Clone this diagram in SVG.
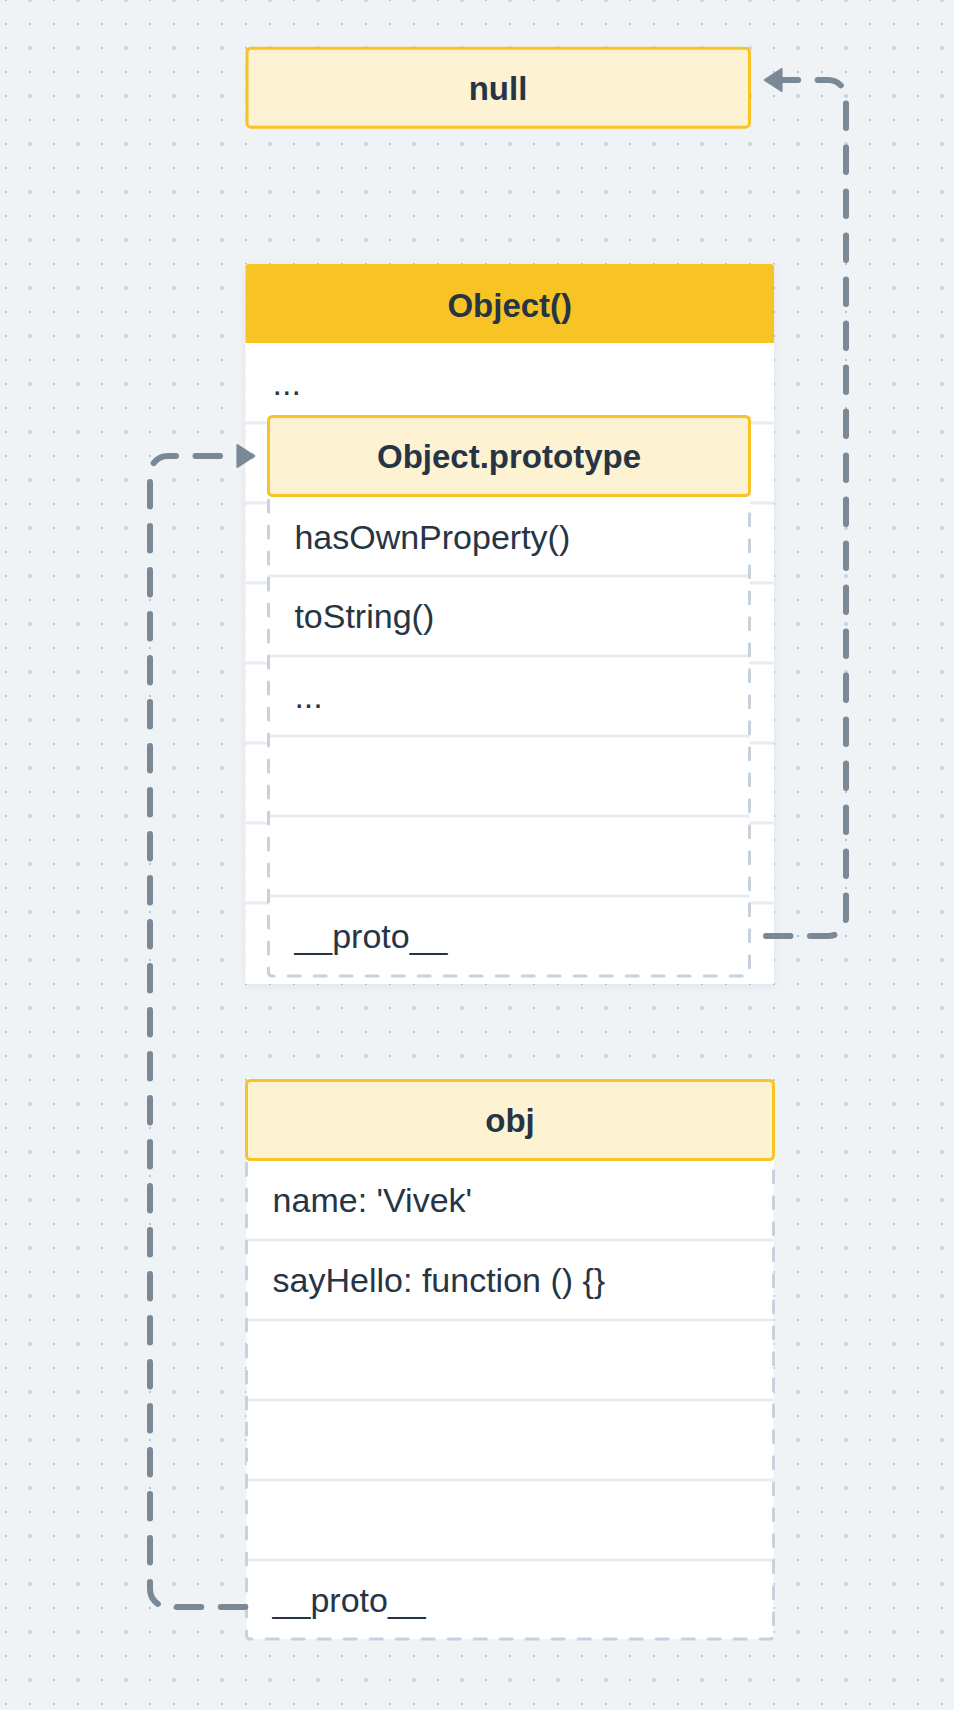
<svg xmlns="http://www.w3.org/2000/svg" width="954" height="1710" viewBox="0 0 954 1710">
<defs>
<pattern id="dotsSmall" patternUnits="userSpaceOnUse" x="-6" y="-12" width="24" height="24">
<rect x="11" y="11" width="2" height="2" fill="#b9c4cf"/>
</pattern>
<pattern id="dotsLarge" patternUnits="userSpaceOnUse" x="6" y="-24" width="48" height="48">
<circle cx="24" cy="24" r="2" fill="#c8d2dc"/>
</pattern>
<marker id="arrow" markerUnits="userSpaceOnUse" viewBox="0 -14 20 28" markerWidth="20" markerHeight="28" refX="14.6" refY="0" orient="auto">
<path d="M1,-11 L18,0 L1,11 Z" fill="#7b8997" stroke="#7b8997" stroke-width="2" stroke-linejoin="round"/>
</marker>
<filter id="shadow" x="-5%" y="-5%" width="110%" height="110%">
<feDropShadow dx="0" dy="3" stdDeviation="4" flood-color="#1e2a38" flood-opacity="0.06"/>
</filter>
</defs>
<style>
.hdr{font-family:"Liberation Sans",Arial,sans-serif;font-weight:bold;font-size:33px;fill:#263545;text-anchor:middle}
.row{font-family:"Liberation Sans",Arial,sans-serif;font-size:34px;fill:#263545}
.hbox{fill:#fdf2d2;stroke:#f8c325;stroke-width:3}
.sep{stroke:#e8ecf1;stroke-width:3}
.dash{fill:none;stroke:#c8d2dc;stroke-width:3;stroke-dasharray:12 14;stroke-linecap:round}
.conn{fill:none;stroke:#7b8997;stroke-width:6;stroke-dasharray:24.5 19.5;stroke-linecap:round}
</style>
<rect width="954" height="1710" fill="#eff3f6"/>
<rect width="954" height="1710" fill="url(#dotsSmall)"/>
<rect width="954" height="1710" fill="url(#dotsLarge)"/>

<g id="node-null">
<rect class="hbox" x="247" y="48.2" width="502.5" height="79" rx="4"/>
<text class="hdr" x="498" y="100">null</text>
</g>

<g id="node-object">
<rect x="245.5" y="264" width="528.5" height="720" fill="#ffffff" filter="url(#shadow)"/>
<path d="M245.5,343 V267 Q245.5,264 248.5,264 H771 Q774,264 774,267 V343 Z" fill="#f8c325"/>
<text class="hdr" x="509.75" y="317">Object()</text>
<line class="sep" x1="245.5" y1="423" x2="774" y2="423"/>
<line class="sep" x1="245.5" y1="503" x2="774" y2="503"/>
<line class="sep" x1="245.5" y1="583" x2="774" y2="583"/>
<line class="sep" x1="245.5" y1="663" x2="774" y2="663"/>
<line class="sep" x1="245.5" y1="743" x2="774" y2="743"/>
<line class="sep" x1="245.5" y1="823" x2="774" y2="823"/>
<line class="sep" x1="245.5" y1="903" x2="774" y2="903"/>
<text class="row" x="272.6" y="395">...</text>
</g>

<g id="node-object-prototype">
<rect x="268.5" y="497" width="481" height="479" fill="#ffffff"/>
<line class="sep" x1="268.5" y1="576" x2="749.5" y2="576"/>
<line class="sep" x1="268.5" y1="656" x2="749.5" y2="656"/>
<line class="sep" x1="268.5" y1="736" x2="749.5" y2="736"/>
<line class="sep" x1="268.5" y1="816" x2="749.5" y2="816"/>
<line class="sep" x1="268.5" y1="896" x2="749.5" y2="896"/>
<path class="dash" d="M268.5,500 V972 Q268.5,976 272.5,976 H745.5 Q749.5,976 749.5,972 V500"/>
<rect class="hbox" x="268.5" y="416.5" width="481" height="79" rx="4"/>
<text class="hdr" x="509" y="468">Object.prototype</text>
<text class="row" x="294.4" y="548.5">hasOwnProperty()</text>
<text class="row" x="294.4" y="628">toString()</text>
<text class="row" x="294.4" y="708">...</text>
<text class="row" x="294.4" y="948">__proto__</text>
</g>

<g id="node-obj">
<rect x="246.5" y="1160" width="527" height="479" fill="#ffffff"/>
<line class="sep" x1="246.5" y1="1240" x2="773.5" y2="1240"/>
<line class="sep" x1="246.5" y1="1320" x2="773.5" y2="1320"/>
<line class="sep" x1="246.5" y1="1400" x2="773.5" y2="1400"/>
<line class="sep" x1="246.5" y1="1480" x2="773.5" y2="1480"/>
<line class="sep" x1="246.5" y1="1560" x2="773.5" y2="1560"/>
<path class="dash" d="M246.5,1163 V1635 Q246.5,1639 250.5,1639 H769.5 Q773.5,1639 773.5,1635 V1163"/>
<rect class="hbox" x="246.5" y="1080.5" width="527" height="79" rx="4"/>
<text class="hdr" x="510" y="1132">obj</text>
<text class="row" x="272.6" y="1212">name: 'Vivek'</text>
<text class="row" x="272.6" y="1292">sayHello: function () {}</text>
<text class="row" x="272.6" y="1612">__proto__</text>
</g>

<g id="connectors">
<path id="edge-proto-null" class="conn" marker-end="url(#arrow)" d="M766,936 H828 A18,18 0 0 0 846,918 V98 A18,18 0 0 0 828,80 H768"/>
<path id="edge-obj-proto" class="conn" marker-end="url(#arrow)" d="M245.3,1607 H168 A18,18 0 0 1 150,1589 V474 A18,18 0 0 1 168,456 H251"/>
</g>
</svg>
